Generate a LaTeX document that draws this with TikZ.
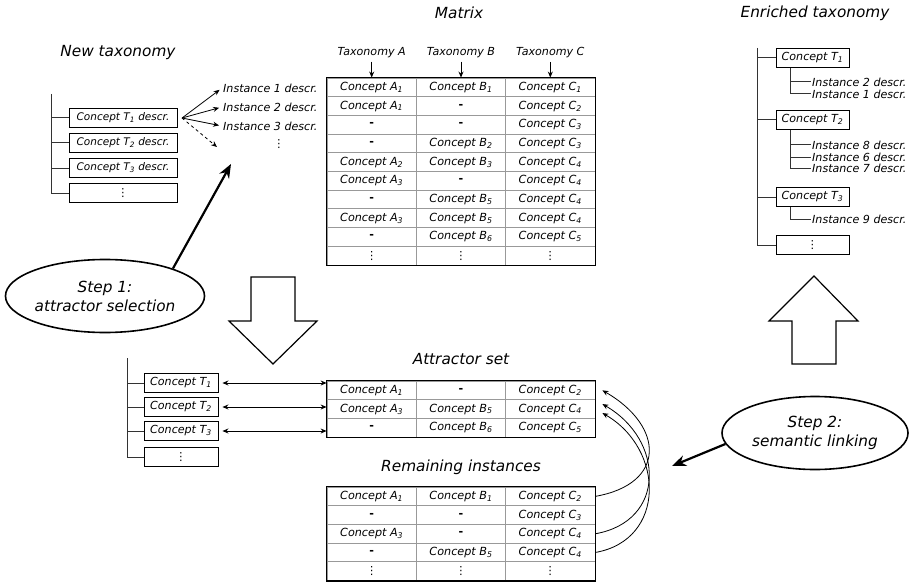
\documentclass[tikz,border=0pt]{standalone}
\usepackage{fontspec}
\setmainfont{DejaVu Sans}
\usetikzlibrary{positioning,shapes.geometric,arrows.meta,calc}

\newcommand{\conA}[1]{Concept A\textsubscript{#1}}
\newcommand{\conB}[1]{Concept B\textsubscript{#1}}
\newcommand{\conC}[1]{Concept C\textsubscript{#1}}
\newcommand{\conT}[1]{Concept T\textsubscript{#1}}
\newcommand{\nodash}{\textup{\textbf{-}}}
\newcommand{\moredots}{\textup{⋮}}

\tikzset{
  small/.style={font=\fontsize{11.1}{13}\selectfont\itshape},
  title/.style={font=\fontsize{15.3}{19}\selectfont\itshape},
  cell/.style={draw=black!40, line width=0.9pt, minimum width=89.3pt,
               minimum height=18.7pt, inner sep=0pt,
               font=\fontsize{11.2}{13}\selectfont\itshape},
  tblborder/.style={draw=black, line width=1.2pt},
  conbox/.style={draw, line width=0.9pt, minimum height=19pt, inner sep=1pt, small},
  tree/.style={draw=black!80, line width=1pt},
  stepell/.style={ellipse, draw, line width=1.6pt, minimum width=189pt,
                  minimum height=73pt, align=center, title, inner sep=0pt},
  bigarrow/.style={line width=2.2pt, -{Stealth[length=14pt,width=11pt]}},
  link/.style={line width=0.8pt, -{Stealth[length=6pt,width=5pt]}},
  dlink/.style={line width=0.8pt, {Stealth[length=6pt,width=5pt]}-{Stealth[length=6pt,width=5pt]}},
  fatarrow/.style={draw, line width=1.2pt, fill=white}
}

\begin{document}
\begin{tikzpicture}[x=1pt, y=-1pt]
  \useasboundingbox (0,0) rectangle (910,583);

  % titles
  \node[title] (newtitle) at (118,53) {New taxonomy};
  \node[title] (mattitle) at (459,13) {Matrix};
  \node[title] (enrtitle) at (815,13) {Enriched taxonomy};
  \node[title] (atttitle) at (461,359) {Attractor set};
  \node[title] (remtitle) at (461,467) {Remaining instances};

  % matrix
  \foreach \a/\b/\c [count=\i] in {
    \conA{1}/\conB{1}/\conC{1}, \conA{1}/\nodash/\conC{2},
    \nodash/\nodash/\conC{3}, \nodash/\conB{2}/\conC{3},
    \conA{2}/\conB{3}/\conC{4}, \conA{3}/\nodash/\conC{4},
    \nodash/\conB{5}/\conC{4}, \conA{3}/\conB{5}/\conC{4},
    \nodash/\conB{6}/\conC{5}, \moredots/\moredots/\moredots
  }{
    \node[cell] (mx-\i-1) at (371.7,{68.65+18.7*\i}) {\a};
    \node[cell] (mx-\i-2) at (461,{68.65+18.7*\i}) {\b};
    \node[cell] (mx-\i-3) at (550.3,{68.65+18.7*\i}) {\c};
  }
  \draw[tblborder] (mx-1-1.north west) rectangle (mx-10-3.south east);

  \foreach \t [count=\j] in {A,B,C}{
    \node[small] (tax\t) at ({282.4+89.3*\j},53) {Taxonomy \t};
    \draw[link] (tax\t.south) -- (mx-1-\j.north);
  }

  % new taxonomy
  \coordinate (ntroot) at (51,94);
  \foreach \i in {1,2,3}
    \node[conbox, minimum width=108pt, font=\fontsize{10.5}{12}\selectfont\itshape]
      (nt\i) at (123,{93+25*\i}) {\conT{\i} descr.};
  \node[conbox, minimum width=108pt] (nt4) at (123,193) {\moredots};
  \draw[tree] (ntroot) |- (nt4.west);
  \foreach \i in {1,2,3}
    \draw[tree] (nt\i.west) -- (nt\i.west -| ntroot);

  \node[small, anchor=west, inner sep=1pt] (inst1) at (222,88) {Instance 1 descr.};
  \node[small, anchor=west, inner sep=1pt] (inst2) at (222,107) {Instance 2 descr.};
  \node[small, anchor=west, inner sep=1pt] (inst3) at (222,126) {Instance 3 descr.};
  \node[small] (instdots) at (279,144) {\moredots};
  \coordinate (fanout) at (182,118);
  \coordinate (instmore) at (217,147);
  \foreach \i in {1,2,3}
    \draw[link, shorten >=3pt] (fanout) -- (inst\i.west);
  \draw[link, dashed] (fanout) -- (instmore);

  % step 1
  \node[stepell] (step1) at (105,296) {Step 1:\\attractor selection};
  \coordinate (s1tip) at (231,164);
  \draw[bigarrow] (step1.22) -- (s1tip);

  % hollow arrows
  \draw[fatarrow] (251,277) -- ++(44,0) -- ++(0,44) -- ++(22,0) -- (273,364)
    -- (229,321) -- ++(22,0) -- cycle;
  \draw[fatarrow] (792,364) -- ++(44,0) -- ++(0,-43) -- ++(22,0) -- (814,276)
    -- (769,321) -- ++(23,0) -- cycle;

  % taxonomy next to attractor set
  \coordinate (btroot) at (127,358);
  \foreach \i in {1,2,3}
    \node[conbox, minimum width=74pt] (bt\i) at (181,{359+24*\i}) {\conT{\i}};
  \node[conbox, minimum width=74pt] (bt4) at (181,457) {\moredots};
  \draw[tree] (btroot) |- (bt4.west);
  \foreach \i in {1,2,3}
    \draw[tree] (bt\i.west) -- (bt\i.west -| btroot);

  % attractor set
  \foreach \a/\b/\c [count=\i] in {
    \conA{1}/\nodash/\conC{2}, \conA{3}/\conB{5}/\conC{4}, \nodash/\conB{6}/\conC{5}
  }{
    \node[cell] (att-\i-1) at (371.7,{371.65+18.7*\i}) {\a};
    \node[cell] (att-\i-2) at (461,{371.65+18.7*\i}) {\b};
    \node[cell] (att-\i-3) at (550.3,{371.65+18.7*\i}) {\c};
  }
  \draw[tblborder] (att-1-1.north west) rectangle (att-3-3.south east);
  \foreach \i in {1,2,3}
    \draw[dlink] ([xshift=4pt]bt\i.east) -- (bt\i.east -| att-1-1.west);

  % remaining instances
  \foreach \a/\b/\c [count=\i] in {
    \conA{1}/\conB{1}/\conC{2}, \nodash/\nodash/\conC{3},
    \conA{3}/\nodash/\conC{4}, \nodash/\conB{5}/\conC{4},
    \moredots/\moredots/\moredots
  }{
    \node[cell] (rem-\i-1) at (371.7,{477.65+18.7*\i}) {\a};
    \node[cell] (rem-\i-2) at (461,{477.65+18.7*\i}) {\b};
    \node[cell] (rem-\i-3) at (550.3,{477.65+18.7*\i}) {\c};
  }
  \draw[tblborder] (rem-1-1.north west) rectangle (rem-5-3.south east);

  \draw[link] (rem-1-3.east) to[out=10, in=-30, distance=72pt] ([xshift=7pt]att-1-3.east);
  \draw[link] (rem-3-3.east) to[out=10, in=-30, distance=72pt] ([xshift=7pt,yshift=5pt]att-2-3.east);
  \draw[link] (rem-4-3.east) to[out=10, in=-30, distance=72pt] ([xshift=7pt,yshift=-4pt]att-2-3.east);

  % step 2
  \node[stepell, minimum width=186pt] (step2) at (815,433) {Step 2:\\semantic linking};
  \coordinate (s2tip) at (672,466);
  \draw[bigarrow] (step2.187) -- (s2tip);

  % enriched taxonomy
  \coordinate (etroot) at (757,48);
  \node[conbox, minimum width=73pt] (et1) at (812.5,58) {\conT{1}};
  \node[conbox, minimum width=73pt] (et2) at (812.5,120) {\conT{2}};
  \node[conbox, minimum width=73pt] (et3) at (812.5,197) {\conT{3}};
  \node[conbox, minimum width=73pt] (et4) at (812.5,245) {\moredots};
  \draw[tree] (etroot) |- (et4.west);
  \foreach \i in {1,2,3}
    \draw[tree] (et\i.west) -- (et\i.west -| etroot);

  \foreach \n/\y in {2/82, 1/94, 8/145, 6/157, 7/168, 9/219}
    \node[small, anchor=west, inner sep=1pt] (ei\n) at (811,\y) {Instance \n\ descr.};
  \draw[tree] ([xshift=15pt]et1.south west) |- (ei2.west)
              ([xshift=15pt]et1.south west) |- (ei1.west);
  \draw[tree] ([xshift=15pt]et2.south west) |- (ei8.west)
              ([xshift=15pt]et2.south west) |- (ei6.west)
              ([xshift=15pt]et2.south west) |- (ei7.west);
  \draw[tree] ([xshift=15pt]et3.south west) |- (ei9.west);
\end{tikzpicture}
\end{document}
